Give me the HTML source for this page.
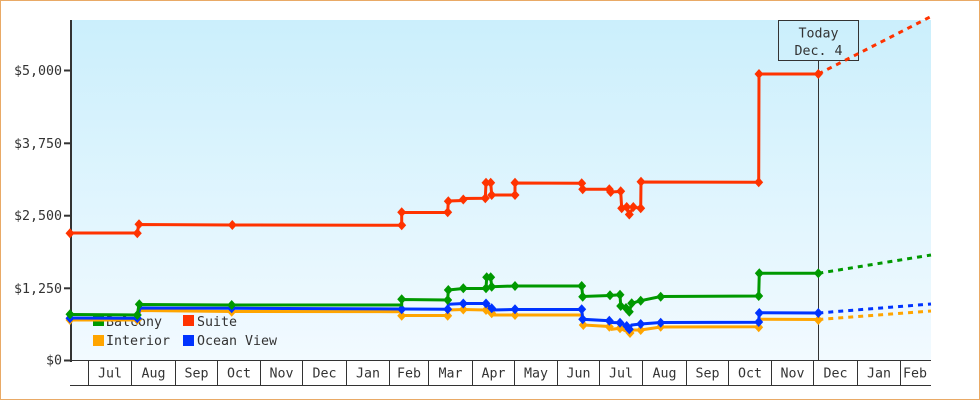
<!DOCTYPE html>
<html>
<head>
<meta charset="utf-8">
<style>
html,body{margin:0;padding:0;background:#fff;}
svg{display:block;}
text{font-family:"DejaVu Sans Mono","Liberation Mono",monospace;font-size:13.3px;fill:#333;}
</style>
</head>
<body>
<svg width="980" height="400" viewBox="0 0 980 400" xmlns="http://www.w3.org/2000/svg">
<defs>
<linearGradient id="bg" x1="0" y1="0" x2="0" y2="1">
<stop offset="0" stop-color="#cbeffc"/>
<stop offset="1" stop-color="#f2faff"/>
</linearGradient>
<path id="dm" d="M0,-5 L4.5,0 L0,5 L-4.5,0 Z"/>
</defs>
<rect x="0" y="0" width="980" height="400" fill="#fff"/>
<rect x="0.5" y="0.5" width="979" height="399" fill="none" stroke="#e9aa66" stroke-width="1"/>
<rect x="72" y="20" width="859" height="340" fill="url(#bg)"/>

<!-- y axis -->
<rect x="70" y="20" width="2" height="342" fill="#333"/>
<g fill="#333">
<rect x="64" y="69.5" width="6" height="2"/>
<rect x="64" y="142.3" width="6" height="2"/>
<rect x="64" y="214.7" width="6" height="2"/>
<rect x="64" y="287.3" width="6" height="2"/>
<rect x="64" y="359.5" width="6" height="2"/>
</g>
<g text-anchor="end">
<text x="62" y="75">$5,000</text>
<text x="62" y="148">$3,750</text>
<text x="62" y="220">$2,500</text>
<text x="62" y="293">$1,250</text>
<text x="62" y="364.5">$0</text>
</g>

<!-- x axis -->
<line x1="70" y1="360.5" x2="931" y2="360.5" stroke="#333" stroke-width="1"/>
<line x1="70" y1="385.5" x2="931" y2="385.5" stroke="#333" stroke-width="1"/>
<g stroke="#333" stroke-width="1">
<line x1="88.5" y1="361" x2="88.5" y2="385"/>
<line x1="131.5" y1="361" x2="131.5" y2="385"/>
<line x1="175.5" y1="361" x2="175.5" y2="385"/>
<line x1="217.5" y1="361" x2="217.5" y2="385"/>
<line x1="260.5" y1="361" x2="260.5" y2="385"/>
<line x1="302.5" y1="361" x2="302.5" y2="385"/>
<line x1="346.5" y1="361" x2="346.5" y2="385"/>
<line x1="389.5" y1="361" x2="389.5" y2="385"/>
<line x1="428.5" y1="361" x2="428.5" y2="385"/>
<line x1="472.5" y1="361" x2="472.5" y2="385"/>
<line x1="514.5" y1="361" x2="514.5" y2="385"/>
<line x1="557.5" y1="361" x2="557.5" y2="385"/>
<line x1="599.5" y1="361" x2="599.5" y2="385"/>
<line x1="642.5" y1="361" x2="642.5" y2="385"/>
<line x1="686.5" y1="361" x2="686.5" y2="385"/>
<line x1="728.5" y1="361" x2="728.5" y2="385"/>
<line x1="771.5" y1="361" x2="771.5" y2="385"/>
<line x1="813.5" y1="361" x2="813.5" y2="385"/>
<line x1="857.5" y1="361" x2="857.5" y2="385"/>
<line x1="900.5" y1="361" x2="900.5" y2="385"/>
</g>
<g text-anchor="middle">
<text x="110" y="377.5">Jul</text>
<text x="153.5" y="377.5">Aug</text>
<text x="196.5" y="377.5">Sep</text>
<text x="239" y="377.5">Oct</text>
<text x="281.5" y="377.5">Nov</text>
<text x="324.5" y="377.5">Dec</text>
<text x="368" y="377.5">Jan</text>
<text x="409" y="377.5">Feb</text>
<text x="450.5" y="377.5">Mar</text>
<text x="493.5" y="377.5">Apr</text>
<text x="536" y="377.5">May</text>
<text x="578.5" y="377.5">Jun</text>
<text x="621" y="377.5">Jul</text>
<text x="664.5" y="377.5">Aug</text>
<text x="707.5" y="377.5">Sep</text>
<text x="750" y="377.5">Oct</text>
<text x="792.5" y="377.5">Nov</text>
<text x="835.5" y="377.5">Dec</text>
<text x="879" y="377.5">Jan</text>
<text x="915" y="377.5">Feb</text>
</g>

<!-- legend -->
<rect x="93" y="315" width="11" height="11" fill="#009900"/>
<text x="106" y="326">Balcony</text>
<rect x="183" y="315" width="11" height="11" fill="#ff3300"/>
<text x="197" y="326">Suite</text>
<rect x="93" y="335" width="11" height="11" fill="#ffa500"/>
<text x="106" y="345">Interior</text>
<rect x="183" y="335" width="11" height="11" fill="#0033ff"/>
<text x="197" y="345">Ocean View</text>

<!-- today -->
<line x1="818.5" y1="61" x2="818.5" y2="360" stroke="#333" stroke-width="1"/>
<rect x="778.5" y="20.5" width="80" height="40" fill="none" stroke="#333" stroke-width="1"/>
<g text-anchor="middle">
<text x="818.5" y="37.5">Today</text>
<text x="818.5" y="55">Dec. 4</text>
</g>

<!-- Interior (orange) -->
<g fill="none" stroke="#ffa500" stroke-width="3" stroke-linejoin="miter">
<polyline points="70,320 137.3,320 140,310.5 231.7,311.5 401.7,311.7 401.7,315.5 447.7,315.5 448.3,310 463.3,309.5 486,310 491.7,313.3 492.7,315 515,315 582.3,315 583.3,325 609.3,326.5 611.7,329.3 620,328.3 630,333 632,330 640.7,330 660.7,327 758.7,326.7 760,319.3 818.3,319.5"/>
<line x1="818.3" y1="319.5" x2="931" y2="311" stroke-dasharray="5 5"/>
</g>
<g fill="#ffa500">
<use href="#dm" x="70" y="320"/><use href="#dm" x="137.3" y="320"/><use href="#dm" x="231.7" y="311.7"/>
<use href="#dm" x="401.7" y="315.7"/><use href="#dm" x="447.7" y="315.7"/><use href="#dm" x="463.3" y="309.5"/>
<use href="#dm" x="486" y="310"/><use href="#dm" x="491.7" y="313.3"/><use href="#dm" x="515" y="315"/>
<use href="#dm" x="583.3" y="325"/><use href="#dm" x="609.3" y="326.7"/><use href="#dm" x="620" y="328.3"/>
<use href="#dm" x="630" y="333"/><use href="#dm" x="640.7" y="330"/><use href="#dm" x="660.7" y="326.7"/>
<use href="#dm" x="758.7" y="327.3"/><use href="#dm" x="818.3" y="320"/>
</g>

<!-- Ocean View (blue) -->
<g fill="none" stroke="#0033ff" stroke-width="3">
<polyline points="70,318 137.3,318.3 140,308 231.7,308.3 401.7,309 447.7,309.3 448.3,304.3 463.3,303.5 486,303.5 491.7,308.3 492.7,310 515,309.5 581.7,309.5 582.7,319.3 609.3,320.7 611.7,322.5 620,322.7 626.7,326 629.3,329 631.7,325 640.7,324 660.7,322.5 758.7,322.3 759.3,312.7 818.3,313"/>
<line x1="818.3" y1="313" x2="931" y2="304" stroke-dasharray="5 5"/>
</g>
<g fill="#0033ff">
<use href="#dm" x="70" y="318.3"/><use href="#dm" x="137.3" y="318.3"/><use href="#dm" x="231.7" y="308.3"/>
<use href="#dm" x="401.7" y="309.3"/><use href="#dm" x="447.7" y="309.3"/><use href="#dm" x="463.3" y="303.5"/>
<use href="#dm" x="486" y="303.5"/><use href="#dm" x="491.7" y="308.3"/><use href="#dm" x="515" y="309.3"/>
<use href="#dm" x="581.7" y="309.3"/><use href="#dm" x="582.7" y="319.3"/><use href="#dm" x="609.3" y="320.7"/>
<use href="#dm" x="620" y="322.7"/><use href="#dm" x="626.7" y="326"/><use href="#dm" x="629.3" y="329.3"/>
<use href="#dm" x="640.7" y="324"/><use href="#dm" x="660.7" y="322.7"/><use href="#dm" x="758.7" y="322"/>
<use href="#dm" x="759.3" y="313"/><use href="#dm" x="818.3" y="313"/>
</g>

<!-- Balcony (green) -->
<g fill="none" stroke="#009900" stroke-width="3">
<polyline points="70,314.5 137.3,315 139,304.5 231.7,305 401.7,305 401.7,299.5 447.7,300 448.3,290 463.3,288.5 486,288.5 486.7,277.5 490.7,277.5 491.7,286.7 515,286 581.7,286 582.7,296.5 610,295.5 620,294.7 620.7,306 626,308 629.3,311.7 631.7,303.3 640.7,300.7 660.7,296.5 758.7,296 759.3,273.3 818.3,273.3"/>
<line x1="818.3" y1="273.3" x2="931" y2="255" stroke-dasharray="5 5"/>
</g>
<g fill="#009900">
<use href="#dm" x="70" y="314.3"/><use href="#dm" x="137.3" y="315"/><use href="#dm" x="139.3" y="304.3"/>
<use href="#dm" x="231.7" y="305"/><use href="#dm" x="401.7" y="299.3"/><use href="#dm" x="447.7" y="300"/>
<use href="#dm" x="448.3" y="290"/><use href="#dm" x="463.3" y="288.3"/><use href="#dm" x="486" y="288.3"/>
<use href="#dm" x="486.7" y="277.3"/><use href="#dm" x="490.7" y="277.3"/><use href="#dm" x="491.7" y="286.7"/>
<use href="#dm" x="515" y="286"/><use href="#dm" x="581.7" y="286"/><use href="#dm" x="582.7" y="296.7"/>
<use href="#dm" x="610" y="295.3"/><use href="#dm" x="620" y="294.7"/><use href="#dm" x="620.7" y="306"/>
<use href="#dm" x="626" y="308"/><use href="#dm" x="629.3" y="311.7"/><use href="#dm" x="631.7" y="303.3"/>
<use href="#dm" x="640.7" y="300.7"/><use href="#dm" x="660.7" y="296.7"/><use href="#dm" x="758.7" y="296"/>
<use href="#dm" x="759.3" y="273.3"/><use href="#dm" x="818.3" y="273.3"/>
</g>

<!-- Suite (red) -->
<g fill="none" stroke="#ff3300" stroke-width="3">
<polyline points="70,233 137.5,233 138.5,224.5 232,225 401.7,225.3 401.7,212.5 447.7,212.5 448.3,201 463.3,200.5 463.8,198.5 485.3,198.3 486,182.7 490.7,182.7 491.7,195 515,195 515,183 581.7,183.3 582.7,189.3 609.5,189.3 610.7,192 620.7,191.5 621.7,208.3 626.7,207 629.3,215 633.3,207 640.7,208.3 641,182 758.7,182.3 759,74 818.3,74"/>
<line x1="818.3" y1="74" x2="931" y2="16.5" stroke-dasharray="5 5"/>
</g>
<g fill="#ff3300">
<use href="#dm" x="70" y="233.3"/><use href="#dm" x="137.3" y="233.3"/><use href="#dm" x="139" y="224.3"/>
<use href="#dm" x="232.3" y="225"/><use href="#dm" x="401.7" y="225.3"/><use href="#dm" x="401.7" y="212.3"/>
<use href="#dm" x="447.7" y="212.3"/><use href="#dm" x="448.3" y="201.3"/><use href="#dm" x="463.3" y="199.5"/>
<use href="#dm" x="485.3" y="198.3"/><use href="#dm" x="486" y="182.7"/><use href="#dm" x="490.7" y="182.7"/>
<use href="#dm" x="491.7" y="195"/><use href="#dm" x="515" y="195"/><use href="#dm" x="515" y="182.7"/>
<use href="#dm" x="581.7" y="183.3"/><use href="#dm" x="582.7" y="189.3"/><use href="#dm" x="609.3" y="189.3"/>
<use href="#dm" x="610.7" y="192"/><use href="#dm" x="620.7" y="191.3"/><use href="#dm" x="621.7" y="208.3"/>
<use href="#dm" x="626.7" y="207"/><use href="#dm" x="629.3" y="214.5"/><use href="#dm" x="633.3" y="207"/>
<use href="#dm" x="640.7" y="208.3"/><use href="#dm" x="641" y="181.7"/><use href="#dm" x="758.7" y="182.3"/>
<use href="#dm" x="759" y="74"/><use href="#dm" x="818.3" y="74"/>
</g>
</svg>
</body>
</html>
